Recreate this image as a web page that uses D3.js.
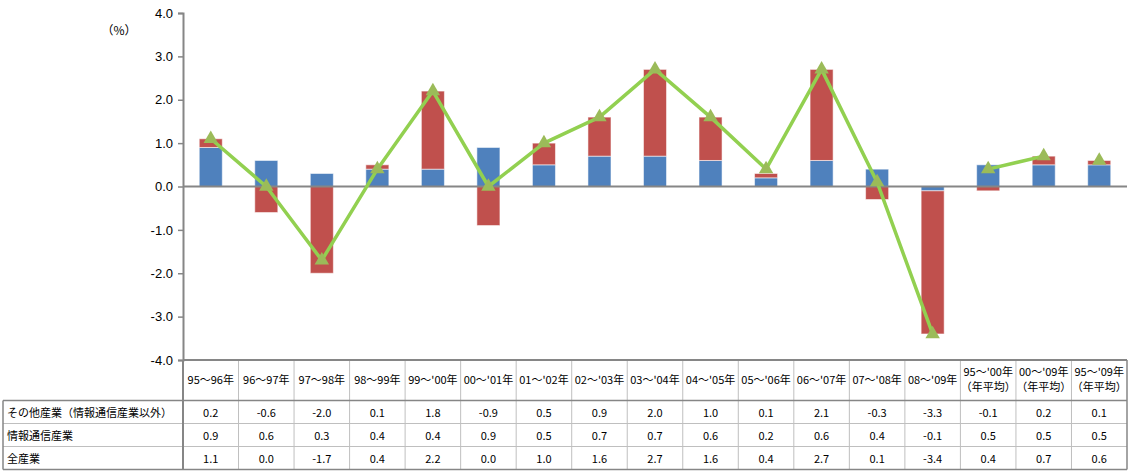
<!DOCTYPE html>
<html>
<head>
<meta charset="utf-8">
<script src="https://cdn.jsdelivr.net/npm/d3@7"></script>
<style>
  body { margin: 0; background: #fff; }
  svg { font-family: "Noto Sans CJK JP", "Noto Sans", sans-serif; }
  .tick text { fill: #000; }
</style>
</head>
<body>
<div id="chart"></div>
<script>
const WIDTH = 1128, HEIGHT = 471;

const categories = ["95～96年","96～97年","97～98年","98～99年","99～'00年","00～'01年",
  "01～'02年","02～'03年","03～'04年","04～'05年","05～'06年","06～'07年","07～'08年",
  "08～'09年","95～'00年|（年平均）","00～'09年|（年平均）","95～'09年|（年平均）"];
const other = [0.2,-0.6,-2.0,0.1,1.8,-0.9,0.5,0.9,2.0,1.0,0.1,2.1,-0.3,-3.3,-0.1,0.2,0.1];
const ict   = [0.9,0.6,0.3,0.4,0.4,0.9,0.5,0.7,0.7,0.6,0.2,0.6,0.4,-0.1,0.5,0.5,0.5];
const total = [1.1,0.0,-1.7,0.4,2.2,0.0,1.0,1.6,2.7,1.6,0.4,2.7,0.1,-3.4,0.4,0.7,0.6];
const seriesNames = ["その他産業（情報通信産業以外）","情報通信産業","全産業"];
const yTicks = [-4,-3,-2,-1,0,1,2,3,4];
const lineGroups = [[0,13],[14,15],[16,16]];

const X0 = 183, X1 = 1127, YT = 13, YB = 360;
const svg = d3.select("#chart").append("svg")
  .attr("width", WIDTH).attr("height", HEIGHT);

const x = d3.scaleBand().domain(d3.range(categories.length))
  .range([X0, X1]).paddingInner(0.585).paddingOuter(0.2925);
const y = d3.scaleLinear().domain([-4, 4]).range([YB, YT]);

const fmt = v => d3.format(".1f")(v).replace("−", "-");

const rows = categories.map((c, i) => ({ i, ict: ict[i], other: other[i] }));
const stack = d3.stack().keys(["ict", "other"]).offset(d3.stackOffsetDiverging)(rows);
const colors = { ict: "#4F81BD", other: "#C0504D" };

// bars
svg.append("g").selectAll("g").data(stack).join("g")
  .attr("fill", s => colors[s.key])
  .selectAll("rect").data(s => s).join("rect")
    .attr("x", d => x(d.data.i))
    .attr("width", x.bandwidth())
    .attr("y", d => y(Math.max(d[0], d[1])))
    .attr("height", d => Math.abs(y(d[0]) - y(d[1])))
    .attr("stroke", "rgba(255,255,255,0.55)").attr("stroke-width", 1);

// zero line
svg.append("line").attr("x1", X0).attr("x2", X1)
  .attr("y1", y(0)).attr("y2", y(0))
  .attr("stroke", "#868686").attr("stroke-width", 2);

// y axis
const yAxis = svg.append("g").attr("transform", `translate(${X0},0)`)
  .call(d3.axisLeft(y).tickValues(yTicks).tickFormat(fmt).tickSize(5).tickPadding(5));
yAxis.select(".domain").attr("stroke", "#868686").attr("stroke-width", 2);
yAxis.selectAll(".tick line").attr("stroke", "#868686").attr("stroke-width", 1.5);
yAxis.selectAll(".tick text").attr("font-size", 13);

svg.append("text").attr("x", 119).attr("y", 35).attr("text-anchor", "middle")
  .attr("font-size", 12).text("（%）");

// total line (broken into groups)
const cx = i => x(i) + x.bandwidth() / 2;
const line = d3.line().x(i => cx(i)).y(i => y(total[i]));
svg.append("g").selectAll("path").data(lineGroups).join("path")
  .attr("d", g => line(d3.range(g[0], g[1] + 1)))
  .attr("fill", "none").attr("stroke", "#92D050").attr("stroke-width", 3.5)
  .attr("stroke-linejoin", "round");
svg.append("g").selectAll("path").data(total).join("path")
  .attr("transform", (d, i) => `translate(${cx(i)},${y(d)})`)
  .attr("d", d3.symbol(d3.symbolTriangle, 90))
  .attr("fill", "#9BBB59");

// data table
const tb = svg.append("g");
const rowY = [YB, 400.5, 423.5, 446.5, 469.5];
const tableLeft = 3;
const grid = "#bfbfbf", dark = "#868686";
// column separators
categories.forEach((c, i) => {
  if (i === 0) return;
  const xx = X0 + i * (X1 - X0) / categories.length;
  tb.append("line").attr("x1", xx).attr("x2", xx).attr("y1", YB).attr("y2", rowY[4])
    .attr("stroke", grid).attr("stroke-width", 1);
});
// horizontal row lines
[2, 3].forEach(r => {
  tb.append("line").attr("x1", tableLeft).attr("x2", X1).attr("y1", rowY[r]).attr("y2", rowY[r])
    .attr("stroke", grid).attr("stroke-width", 1);
});
// outer borders
tb.append("line").attr("x1", X0).attr("x2", X1).attr("y1", YB).attr("y2", YB)
  .attr("stroke", dark).attr("stroke-width", 2);
tb.append("line").attr("x1", X0).attr("x2", X0).attr("y1", YB).attr("y2", rowY[4])
  .attr("stroke", dark).attr("stroke-width", 2);
tb.append("line").attr("x1", X1).attr("x2", X1).attr("y1", YB).attr("y2", rowY[4])
  .attr("stroke", dark).attr("stroke-width", 1.5);
tb.append("line").attr("x1", tableLeft).attr("x2", X1).attr("y1", rowY[4]).attr("y2", rowY[4])
  .attr("stroke", dark).attr("stroke-width", 1.5);
tb.append("line").attr("x1", tableLeft).attr("x2", X1).attr("y1", rowY[1]).attr("y2", rowY[1])
  .attr("stroke", dark).attr("stroke-width", 1.5);
tb.append("line").attr("x1", tableLeft).attr("x2", tableLeft).attr("y1", rowY[1]).attr("y2", rowY[4])
  .attr("stroke", dark).attr("stroke-width", 1.5);

// header labels
categories.forEach((c, i) => {
  const parts = c.split("|");
  const t = tb.append("text").attr("text-anchor", "middle").attr("font-size", 11);
  parts.forEach((p, k) => {
    t.append("tspan").attr("x", cx(i))
      .attr("y", parts.length === 1 ? 384 : 376 + k * 15).text(p);
  });
});
// row labels + values
[other, ict, total].forEach((vals, r) => {
  const yy = rowY[r + 1] + 16;
  tb.append("text").attr("x", 7).attr("y", yy).attr("font-size", 11).text(seriesNames[r]);
  vals.forEach((v, i) => {
    tb.append("text").attr("x", cx(i)).attr("y", yy).attr("text-anchor", "middle")
      .attr("font-size", 11).text(fmt(v));
  });
});
</script>
</body>
</html>
